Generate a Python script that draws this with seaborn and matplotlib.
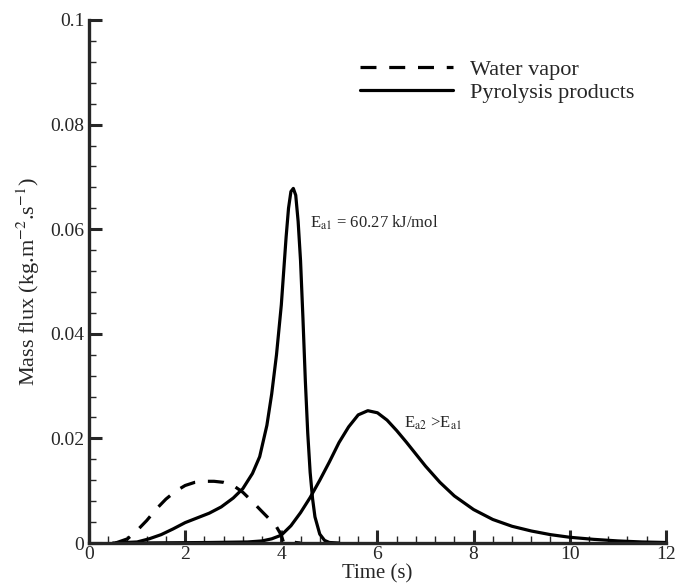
import numpy as np
import pandas as pd
import matplotlib
matplotlib.use('Agg')
import matplotlib.pyplot as plt
import matplotlib.ticker as ticker
import seaborn as sns

# water vapor (dashed)
t_water = [0.55, 0.8, 1.0, 1.2, 1.4, 1.6, 1.8, 2.0, 2.2, 2.4, 2.6, 2.8, 3.0, 3.2, 3.4, 3.6, 3.75, 3.9, 4.0, 4.05, 4.2, 4.3, 4.4]
m_water = [0.0, 0.0008, 0.0024, 0.0043, 0.0065, 0.0084, 0.0099, 0.0110, 0.0116, 0.0118, 0.0118, 0.0116, 0.0110, 0.0097, 0.0079, 0.0060, 0.0046, 0.0031, 0.0015, 0.0, 0.0003, 0.0001, 0.0]

# pyrolysis products, Ea1
t_pyro1 = [0.5, 1.0, 1.25, 1.5, 1.75, 2.0, 2.25, 2.5, 2.75, 3.0, 3.2, 3.4, 3.55, 3.7, 3.8, 3.9, 4.0, 4.05, 4.1, 4.15, 4.2, 4.25, 4.3, 4.35, 4.4, 4.45, 4.5, 4.55, 4.6, 4.65, 4.7, 4.8, 4.9, 5.0, 5.2]
m_pyro1 = [0.0, 0.0002, 0.0008, 0.0016, 0.0027, 0.0039, 0.0048, 0.0057, 0.0069, 0.0086, 0.0104, 0.0133, 0.0165, 0.0225, 0.0285, 0.0360, 0.0455, 0.0520, 0.0585, 0.0640, 0.0672, 0.0678, 0.0665, 0.0615, 0.0540, 0.0430, 0.0310, 0.0210, 0.0135, 0.0085, 0.0050, 0.0017, 0.0005, 0.0001, 0.0]

# pyrolysis products, Ea2
t_pyro2 = [1.0, 2.5, 3.3, 3.6, 3.8, 4.0, 4.2, 4.4, 4.6, 4.8, 5.0, 5.2, 5.4, 5.6, 5.8, 6.0, 6.2, 6.4, 6.6, 6.8, 7.0, 7.3, 7.6, 8.0, 8.4, 8.8, 9.2, 9.6, 10.0, 10.5, 11.0, 11.5, 12.0]
m_pyro2 = [0.0, 0.0001, 0.0002, 0.0004, 0.0008, 0.0015, 0.0033, 0.0058, 0.0087, 0.0120, 0.0155, 0.0192, 0.0222, 0.0245, 0.0253, 0.0249, 0.0235, 0.0215, 0.0193, 0.0170, 0.0147, 0.0116, 0.0090, 0.0064, 0.0045, 0.0032, 0.0023, 0.0016, 0.0011, 0.0007, 0.0004, 0.0002, 0.0001]

sns.set_style('ticks')
plt.rcParams['font.family'] = ['Liberation Serif', 'DejaVu Serif']
plt.rcParams['mathtext.fontset'] = 'stix'

fig = plt.figure(figsize=(6.76, 5.88), dpi=100)
ax = fig.add_axes([0.1317, 0.0765, 0.8533, 0.8895])

df_w = pd.DataFrame({'t': t_water, 'm': m_water})
df_1 = pd.DataFrame({'t': t_pyro1, 'm': m_pyro1})
df_2 = pd.DataFrame({'t': t_pyro2, 'm': m_pyro2})

sns.lineplot(data=df_w, x='t', y='m', ax=ax, color='black', lw=2.3, linestyle=(0, (5, 4)), label='Water vapor', sort=False)
sns.lineplot(data=df_1, x='t', y='m', ax=ax, color='black', lw=2.3, label='Pyrolysis products', sort=False)
sns.lineplot(data=df_2, x='t', y='m', ax=ax, color='black', lw=2.3, sort=False)

ax.set_xlim(0, 12)
ax.set_ylim(0, 0.1)
ax.xaxis.set_major_locator(ticker.MultipleLocator(2))
ax.xaxis.set_minor_locator(ticker.MultipleLocator(0.4))
ax.yaxis.set_major_locator(ticker.MultipleLocator(0.02))
ax.yaxis.set_minor_locator(ticker.MultipleLocator(0.004))
ax.yaxis.set_major_formatter(ticker.FuncFormatter(lambda v, p: '0' if v == 0 else ('%g' % round(v, 3))))

ax.tick_params(which='major', direction='in', length=9.5, width=2.2, labelsize=14)
ax.tick_params(which='minor', direction='in', length=5, width=1)
ax.tick_params(axis='x', which='major', pad=2)
sns.despine(ax=ax)
for s in ['left', 'bottom']:
    ax.spines[s].set_linewidth(2.4)

ax.set_xlabel('Time (s)', fontsize=15, labelpad=1)
ax.set_ylabel('Mass flux (kg.m$^{-2}$.s$^{-1}$)', fontsize=16, labelpad=6)

ax.text(4.6, 0.0612, r'E$_{\mathrm{a1}}$ = 60.27 kJ/mol', fontsize=12, va='center')
ax.text(6.55, 0.0229, r'E$_{\mathrm{a2}}$ >E$_{\mathrm{a1}}$', fontsize=12, va='center')

leg = ax.legend(loc='upper left', bbox_to_anchor=(0.47, 0.925), frameon=False, fontsize=16,
                handlelength=4.2, handletextpad=0.75, labelspacing=0.1,
                borderpad=0, borderaxespad=0)

fig.savefig('out.png', dpi=100)
